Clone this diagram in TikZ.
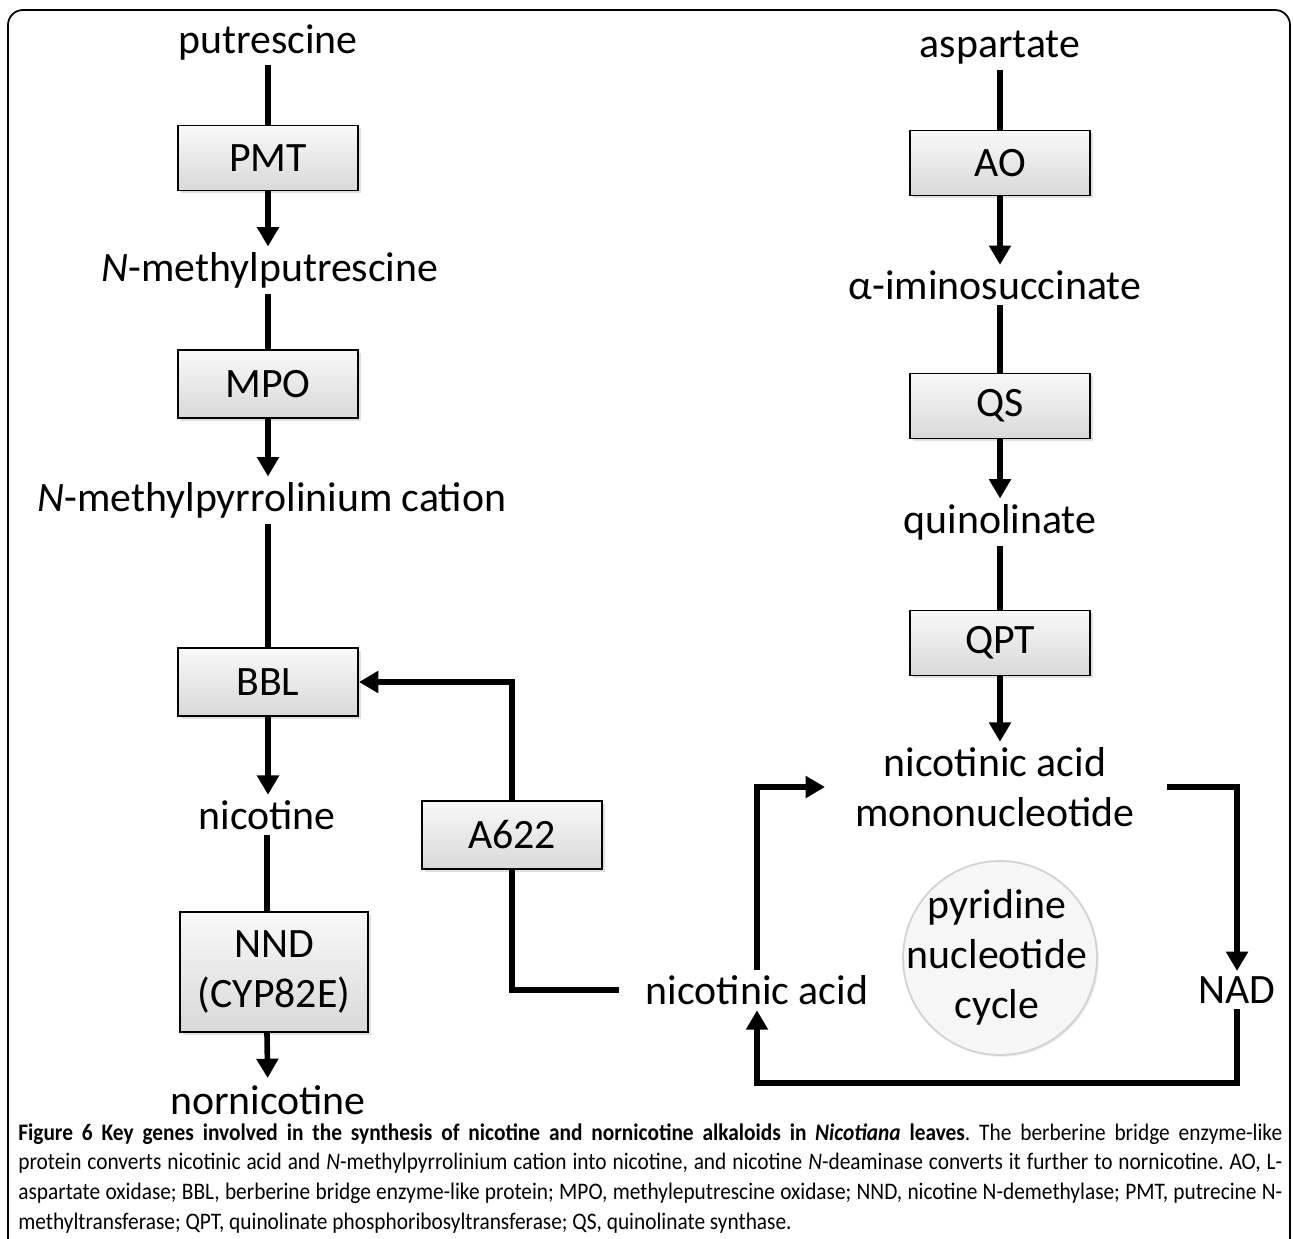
\documentclass[tikz,border=0pt]{standalone}
\usepackage{fontspec}
\setmainfont{Carlito}
\newfontfamily\capfont[FakeStretch=0.9]{Carlito}
\usetikzlibrary{arrows.meta,shadows}
\newcommand\capline[1]{\makebox[25.28cm][s]{#1}}

\begin{document}
\begin{tikzpicture}[
  x=0.02cm, y=-0.02cm,
  >={Triangle[width=12pt,length=11pt]},
  box/.style={draw,line width=1.1pt,top color=gray!5,bottom color=gray!30,minimum width=3.6cm,minimum height=1.3cm,inner sep=3pt,
    font=\fontsize{23.8}{28}\selectfont,drop shadow={opacity=0.25,shadow xshift=1.5pt,shadow yshift=-1.5pt}},
  chem/.style={align=center,inner sep=3pt,font=\fontsize{23.8}{28.4}\selectfont},
  link/.style={line width=3.2pt},
  flow/.style={line width=3.2pt,->}
]
  \useasboundingbox (0,0) rectangle (1293,1238);
  \draw[line width=1pt,rounded corners=8.5pt] (8,1240) -- (8,10) -- (1290,10) -- (1290,1240);

  % left branch
  \node[chem] (put) at (268,42) {putrescine};
  \node[box] (PMT) at (268,158) {PMT};
  \node[chem] (nmp) at (270,270) {\textit{N}-methylputrescine};
  \node[box,minimum height=1.36cm] (MPO) at (268,384) {MPO};
  \node[chem] (nmpc) at (272,500) {\textit{N}-methylpyrrolinium cation};
  \node[box,minimum height=1.36cm] (BBL) at (268,682) {BBL};
  \node[chem] (nic) at (267,815) {nicotine};
  \node[box,minimum width=3.76cm,minimum height=2.4cm,align=center] (NND) at (274,972) {NND\\(CYP82E)};
  \node[inner sep=0pt,font=\fontsize{23.8}{28.4}\selectfont] (nor) at (268,1100) {nornicotine};
  \node[box,minimum height=1.36cm] (A622) at (512,835) {A622};

  % right branch
  \node[chem] (asp) at (1000,48) {aspartate};
  \node[box] (AO) at (1000,163) {AO};
  \node[chem] (imino) at (995,285) {α-iminosuccinate};
  \node[box] (QS) at (1000,406) {QS};
  \node[chem] (quin) at (1000,522) {quinolinate};
  \node[box] (QPT) at (1000,643) {QPT};
  \node[chem] (namn) at (995,787) {nicotinic acid\\mononucleotide};
  \node[chem] (nicacid) at (757,990) {nicotinic acid};
  \node[chem] (nad) at (1237,990) {NAD};
  \node[circle,draw=gray!35,line width=1pt,fill=gray!7,minimum size=3.88cm,inner sep=0pt,
    drop shadow={opacity=0.15,shadow xshift=1pt,shadow yshift=-1pt}] (ring) at (1000,958) {};
  \node[chem] (cycle) at (997,957) {pyridine\\nucleotide\\cycle};
  \coordinate (low) at (757,1083);

  \draw[link] (put) -- (PMT);
  \draw[flow] (PMT) -- (PMT |- nmp.north);
  \draw[link] (nmp.south -| PMT) -- (MPO);
  \draw[flow] (MPO) -- (MPO |- nmpc.north);
  \draw[link] (nmpc.south -| BBL) -- (BBL);
  \draw[flow] (BBL) -- (BBL |- nic.north);
  \draw[link] (nic) -- (nic |- NND.north);
  \draw[flow,shorten >=4pt] (nic |- NND.south) -- (nor);
  \draw[link,shorten <=12pt] (nicacid.west) -| (A622.south);
  \draw[flow] (A622.north) |- (BBL.east);

  \draw[link] (asp) -- (AO);
  \draw[flow] (AO) -- (AO |- imino.north);
  \draw[link] (imino.south -| QS) -- (QS);
  \draw[flow] (QS) -- (quin);
  \draw[link] (quin) -- (QPT);
  \draw[flow] (QPT) -- (QPT |- namn.north);
  \draw[flow,shorten >=14pt] (nicacid.north) |- (namn.west);
  \draw[flow,shorten <=15pt] (namn.east) -| (nad.north);
  \draw[flow] (nad.south) |- (low) -- (nicacid.south);

  \node[anchor=north west,inner sep=0pt,align=left,font=\capfont\fontsize{13.5}{17}\selectfont\frenchspacing] (caption) at (18,1123)
    {\capline{\textbf{Figure 6 Key genes involved in the synthesis of nicotine and nornicotine alkaloids in \textit{Nicotiana} leaves}. The berberine bridge enzyme-like}\\
     \capline{protein converts nicotinic acid and \textit{N}-methylpyrrolinium cation into nicotine, and nicotine \textit{N}-deaminase converts it further to nornicotine. AO, L-}\\
     \capline{aspartate oxidase; BBL, berberine bridge enzyme-like protein; MPO, methyleputrescine oxidase; NND, nicotine N-demethylase; PMT, putrecine N-}\\
     methyltransferase; QPT, quinolinate phosphoribosyltransferase; QS, quinolinate synthase.};
\end{tikzpicture}
\end{document}
